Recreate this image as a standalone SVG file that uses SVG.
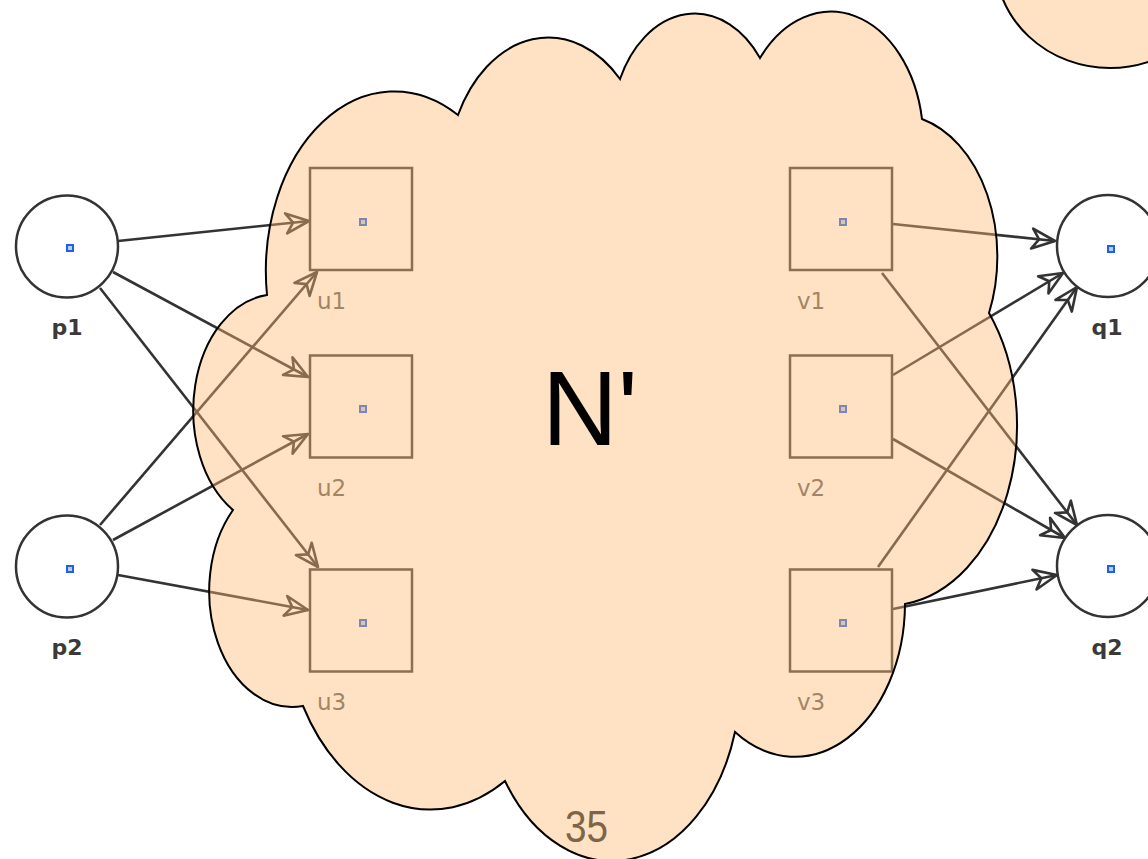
<svg xmlns="http://www.w3.org/2000/svg" width="1148" height="859" viewBox="0 0 1148 859">
<style>
.place{fill:#ffffff;stroke:#333333;stroke-width:2.5}
.trans{fill:#ffffff;stroke:#3a3a3a;stroke-width:2.5}
.dot{fill:#b8ccf5;stroke:#2160e0;stroke-width:2}
.plab{font-family:"DejaVu Sans",sans-serif;font-size:22px;font-weight:bold;fill:#3a3a3a;text-anchor:middle}
.tlab{font-family:"DejaVu Sans",sans-serif;font-size:23px;fill:#606060}
.arc{stroke:#333333;stroke-width:2.6;fill:none;marker-end:url(#ah)}
.cloud{fill:rgb(255,185,113);fill-opacity:0.42;stroke:#000000;stroke-width:2}
</style>
<defs>
<marker id="ah" viewBox="-27 -14 30 28" refX="0" refY="0" markerWidth="30" markerHeight="28" orient="auto" markerUnits="userSpaceOnUse">
<path d="M0,0 L-23,-10 L-16,0 L-23,10 Z" fill="none" stroke="#333333" stroke-width="2.6" stroke-linejoin="round"/>
</marker>
</defs>
<rect width="1148" height="859" fill="#ffffff"/>

<g id="connectors">
<line class="arc" x1="118" y1="241" x2="309" y2="221"/>
<line class="arc" x1="113" y1="272" x2="308" y2="377"/>
<line class="arc" x1="100" y1="288" x2="318" y2="567"/>
<line class="arc" x1="100" y1="525" x2="317" y2="272"/>
<line class="arc" x1="113" y1="540" x2="308" y2="434"/>
<line class="arc" x1="118" y1="575" x2="308" y2="610"/>
<line class="arc" x1="893" y1="224" x2="1055" y2="241"/>
<line class="arc" x1="882" y1="273" x2="1077" y2="525"/>
<line class="arc" x1="893" y1="375" x2="1063" y2="273"/>
<line class="arc" x1="893" y1="439" x2="1065" y2="538"/>
<line class="arc" x1="878" y1="567" x2="1077" y2="287"/>
<line class="arc" x1="893" y1="609" x2="1057" y2="575"/>
</g>

<g id="p1"><circle class="place" cx="67" cy="246.5" r="51"/><rect class="dot" x="67" y="245" width="6" height="6"/><text class="plab" x="67" y="335">p1</text></g>
<g id="p2"><circle class="place" cx="67" cy="566.5" r="51"/><rect class="dot" x="67" y="566" width="6" height="6"/><text class="plab" x="67" y="655">p2</text></g>
<g id="q1"><circle class="place" cx="1108" cy="246" r="51"/><rect class="dot" x="1108" y="246" width="6" height="6"/><text class="plab" x="1107" y="335">q1</text></g>
<g id="q2"><circle class="place" cx="1108" cy="566" r="51"/><rect class="dot" x="1108" y="566" width="6" height="6"/><text class="plab" x="1107" y="655">q2</text></g>

<g id="u1"><rect class="trans" x="310" y="168" width="102" height="102"/><rect class="dot" x="360" y="219" width="6" height="6"/><text class="tlab" x="317" y="309">u1</text></g>
<g id="u2"><rect class="trans" x="310" y="355.5" width="102" height="102"/><rect class="dot" x="360" y="406" width="6" height="6"/><text class="tlab" x="317" y="496">u2</text></g>
<g id="u3"><rect class="trans" x="310" y="569.5" width="102" height="102"/><rect class="dot" x="360" y="620" width="6" height="6"/><text class="tlab" x="317" y="710">u3</text></g>
<g id="v1"><rect class="trans" x="790" y="168" width="102" height="102"/><rect class="dot" x="840" y="219" width="6" height="6"/><text class="tlab" x="797" y="309">v1</text></g>
<g id="v2"><rect class="trans" x="790" y="355.5" width="102" height="102"/><rect class="dot" x="840" y="406" width="6" height="6"/><text class="tlab" x="797" y="496">v2</text></g>
<g id="v3"><rect class="trans" x="790" y="569.5" width="102" height="102"/><rect class="dot" x="840" y="620" width="6" height="6"/><text class="tlab" x="797" y="710">v3</text></g>

<g id="cloud">
<path class="cloud" d="M267,295 A128.5,179.8 0 0 1 458,115 A101.5,142.1 0 0 1 620,79 A83.1,116.3 0 0 1 760,58 A92.4,129 0 0 1 922,119 A101.5,142.3 0 0 1 989,313 A128.9,180.3 0 0 1 905,604 A110.1,153.9 0 0 1 735,732 A128.5,180.2 0 0 1 505,781 A146.9,206.2 0 0 1 303,706 A83,115.8 0 0 1 233,510 A82.7,116.3 0 0 1 267,295 Z"/>
<text x="542" y="445" font-family="Liberation Sans, Arial, sans-serif" font-size="105" fill="#000000">N'</text>
<text x="565" y="842" font-family="Liberation Sans, Arial, sans-serif" font-size="45" fill="#7d6548" textLength="43" lengthAdjust="spacingAndGlyphs">35</text>
</g>

<g id="corner-shape">
<ellipse class="cloud" cx="1110" cy="-40" rx="115" ry="108"/>
</g>
</svg>
